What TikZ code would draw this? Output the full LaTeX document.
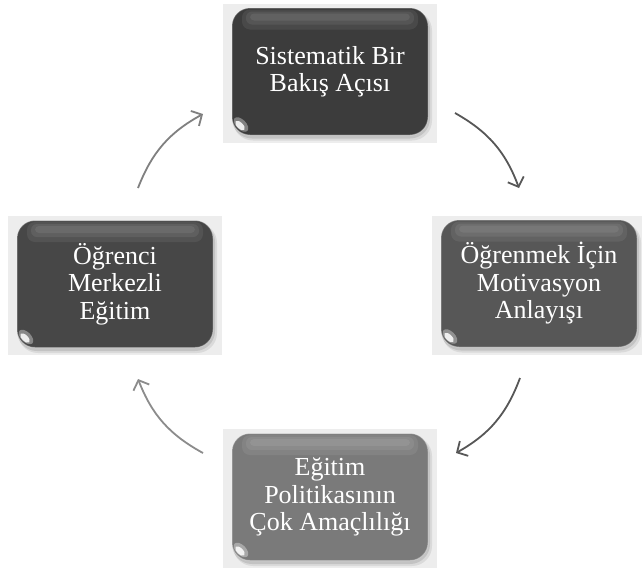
\documentclass[tikz,border=0pt]{standalone}
\usepackage{fontspec}
\setmainfont{Liberation Serif}
\usetikzlibrary{arrows.meta}
\definecolor{bgpanel}{HTML}{EDEDED}
\definecolor{ctop}{HTML}{3C3C3C}
\definecolor{cright}{HTML}{575757}
\definecolor{cbottom}{HTML}{7A7A7A}
\definecolor{cleft}{HTML}{474747}
\tikzset{
  boxnode/.style={rounded corners=18pt, minimum width=196pt, minimum height=127pt,
    inner sep=0pt, align=center, text=white, draw=white, draw opacity=0.3, line width=1pt,
    font=\fontsize{26}{27.5}\selectfont},
  arr/.style={line width=1.8pt, -{Straight Barb[length=8pt,width=17pt,line width=1.8pt]}},
}
\newcommand\gbox[5]{%
  \fill[bgpanel] (#2-107,#3-68) rectangle (#2+107,#3+71);
  \fill[black,opacity=0.08,rounded corners=20pt] (#2-97,#3-61) rectangle (#2+102,#3+69);
  \fill[black,opacity=0.10,rounded corners=20pt] (#2-98,#3-62) rectangle (#2+100,#3+67);
  \node[boxnode,fill=#4] (#1) at (#2,#3) {#5};
  \fill[white,opacity=0.07,rounded corners=8pt] (#2-88,#3-62) rectangle (#2+88,#3-42);
  \fill[white,opacity=0.07,rounded corners=6pt] (#2-84,#3-60) rectangle (#2+84,#3-47);
  \fill[white,opacity=0.07,rounded corners=4pt] (#2-80,#3-58) rectangle (#2+80,#3-51);
  \fill[white,opacity=0.35,rotate around={-45:(#2-89,#3+53)}] (#2-89,#3+53) ellipse (9pt and 5pt);
  \fill[white,opacity=0.85,rotate around={-45:(#2-90,#3+54)}] (#2-90,#3+54) ellipse (6pt and 3pt);
}
\begin{document}
\begin{tikzpicture}[x=1pt,y=-1pt]
\useasboundingbox[fill=white] (0,0) rectangle (642,573);
\gbox{top}{330}{71.5}{ctop}{Sistematik Bir\\Bakış Açısı}
\gbox{right}{539}{283.5}{cright}{Öğrenmek İçin\\Motivasyon\\Anlayışı}
\gbox{bottom}{330}{497}{cbottom}{Eğitim\\Politikasının\\Çok Amaçlılığı}
\gbox{left}{115}{284}{cleft}{Öğrenci\\Merkezli\\Eğitim}
\coordinate (a1s) at (455,113);
\coordinate (a1e) at (519,188);
\coordinate (a2s) at (520,378);
\coordinate (a2e) at (456,453);
\coordinate (a3s) at (203,453);
\coordinate (a3e) at (138,379);
\coordinate (a4s) at (138,188);
\coordinate (a4e) at (203,114);
\draw[arr,color=cright] (a1s) to[bend left=20] (a1e);
\draw[arr,color=cright] (a2s) to[bend left=20] (a2e);
\draw[arr,color=gray!90] (a3s) to[bend left=20] (a3e);
\draw[arr,color=gray] (a4s) to[bend left=20] (a4e);
\end{tikzpicture}
\end{document}
